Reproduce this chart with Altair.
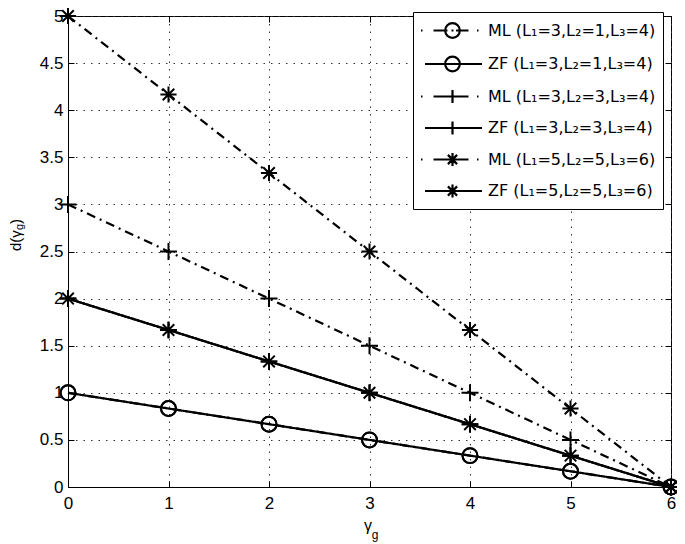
import altair as alt
import pandas as pd

# ---- data ----
gamma = [0, 1, 2, 3, 4, 5, 6]
series_names = [
    "ML (L₁=3,L₂=1,L₃=4)",
    "ZF (L₁=3,L₂=1,L₃=4)",
    "ML (L₁=3,L₂=3,L₃=4)",
    "ZF (L₁=3,L₂=3,L₃=4)",
    "ML (L₁=5,L₂=5,L₃=6)",
    "ZF (L₁=5,L₂=5,L₃=6)",
]
ml_314 = [1.0, 0.833, 0.667, 0.5, 0.333, 0.167, 0.0]
zf_314 = [1.0, 0.833, 0.667, 0.5, 0.333, 0.167, 0.0]
ml_334 = [3.0, 2.5, 2.0, 1.5, 1.0, 0.5, 0.0]
zf_334 = [2.0, 1.667, 1.333, 1.0, 0.667, 0.333, 0.0]
ml_556 = [5.0, 4.167, 3.333, 2.5, 1.667, 0.833, 0.0]
zf_556 = [2.0, 1.667, 1.333, 1.0, 0.667, 0.333, 0.0]
x_ticks = [0, 1, 2, 3, 4, 5, 6]
y_ticks = [0, 0.5, 1, 1.5, 2, 2.5, 3, 3.5, 4, 4.5, 5]

series_values = [ml_314, zf_314, ml_334, zf_334, ml_556, zf_556]
rows = []
for name, vals in zip(series_names, series_values):
    for g, v in zip(gamma, vals):
        rows.append({"series": name, "gamma": g, "d": v})
df = pd.DataFrame(rows)

# ---- styles ----
FONT = "Liberation Sans"
dashdot = [9, 5, 2, 5]
solid = [1, 0]
dash_range = [dashdot, solid, dashdot, solid, dashdot, solid]

circle_p = "M-0.88,0A0.88,0.88 0 1,0 0.88,0A0.88,0.88 0 1,0 -0.88,0Z"
plus_p = "M-1,0H1M0,-1V1"
star_p = "M-0.95,0H0.95M0,-0.95V0.95M-0.68,-0.68L0.68,0.68M-0.68,0.68L0.68,-0.68"
marker_range = [circle_p, circle_p, plus_p, plus_p, star_p, star_p]

# legend glyphs: line segment + marker (unit = 10 px)
ml_line = "M-3.15,0H-3.0M-1.9,0H-0.5M-0.1,0H0.1M0.35,0H1.6M2.45,0H2.6"
zf_line = "M-2.75,0H2.95"
lc = "M-0.73,0A0.73,0.73 0 1,0 0.73,0A0.73,0.73 0 1,0 -0.73,0Z"
lp = "M-0.65,0H0.65M0,-0.65V0.65"
ls = "M-0.65,0H0.65M0,-0.65V0.65M-0.46,-0.46L0.46,0.46M-0.46,0.46L0.46,-0.46"
legend_range = [ml_line + lc, zf_line + lc, ml_line + lp, zf_line + lp,
                ml_line + ls, zf_line + ls]

xs = alt.Scale(domain=[0, 6], nice=False, zero=False)
ys = alt.Scale(domain=[0, 5], nice=False, zero=False)

grid_axis = dict(grid=True, gridDash=[1.5, 6], gridColor="#333", gridWidth=1,
                 ticks=False, domain=True, domainColor="black",
                 labelFont=FONT, labelFontSize=17, labelColor="black",
                 labelFlush=False, labelOverlap=False, title=None)
tick_axis = dict(grid=False, labels=False, domain=False, ticks=True,
                 tickSize=6, tickColor="black", tickWidth=1, offset=-6, title=None)

lines = alt.Chart(df).mark_line(color="black", strokeWidth=2.2).encode(
    x=alt.X("gamma:Q", scale=xs,
            axis=alt.Axis(values=x_ticks, orient="bottom", labelPadding=8, **grid_axis)),
    y=alt.Y("d:Q", scale=ys,
            axis=alt.Axis(values=y_ticks, orient="left", labelPadding=5, format="~g", **grid_axis)),
    strokeDash=alt.StrokeDash("series:N", scale=alt.Scale(domain=series_names, range=dash_range),
                              legend=None),
    detail="series:N",
)

points = alt.Chart(df).mark_point(color="black", filled=False, strokeWidth=2, size=289,
                                  opacity=1).encode(
    x=alt.X("gamma:Q", scale=xs, axis=alt.Axis(values=x_ticks, orient="bottom", **tick_axis)),
    y=alt.Y("d:Q", scale=ys, axis=alt.Axis(values=y_ticks, orient="left", **tick_axis)),
    shape=alt.Shape("series:N", scale=alt.Scale(domain=series_names, range=marker_range),
                    legend=None),
)

legend_layer = alt.Chart(df).mark_point(color="black", filled=False, strokeWidth=2.2,
                                        size=400, opacity=0).encode(
    x=alt.X("gamma:Q", scale=xs, axis=alt.Axis(values=x_ticks, orient="top", **tick_axis)),
    y=alt.Y("d:Q", scale=ys, axis=alt.Axis(values=y_ticks, orient="right", **tick_axis)),
    shape=alt.Shape(
        "series:N", scale=alt.Scale(domain=series_names, range=legend_range),
        legend=alt.Legend(
            title=None, orient="none", legendX=345, legendY=-4,
            padding=7, symbolOffset=21, labelOffset=24, rowPadding=8.5,
            labelFont="DejaVu Sans", labelFontSize=16, labelColor="black", labelLimit=400,
            strokeColor="black", fillColor="white",
            symbolStrokeColor="black", symbolStrokeWidth=2.2, symbolOpacity=1,
            symbolSize=400, symbolFillColor="transparent",
        ),
    ),
)

one = pd.DataFrame({"t": [0]})
def txt(s, x, y, size, angle=0, align="center"):
    kw = dict(text=s, font=FONT, fontSize=size, color="black", align=align, baseline="middle")
    if angle:
        kw["angle"] = angle
    return alt.Chart(one).mark_text(**kw).encode(x=alt.value(x), y=alt.value(y))

titles = [
    txt("γ", 300, 510, 16),
    txt("g", 307, 519, 12),
    txt("d(γ", -52, 235, 15, angle=270, align="left"),
    txt("g", -48, 214, 11, angle=270, align="left"),
    txt(")", -52, 208, 15, angle=270, align="left"),
]

chart = alt.layer(lines, points, legend_layer, *titles).resolve_scale(
    shape="independent"
).resolve_axis(
    x="independent", y="independent"
).properties(
    width=603, height=471,
    padding={"left": 60, "top": 8, "right": 6, "bottom": 56},
    autosize=alt.AutoSizeParams(type="none"),
).configure_view(stroke="black", strokeWidth=1)

chart.save("out.html", embed_options={"renderer": "svg", "actions": False})
